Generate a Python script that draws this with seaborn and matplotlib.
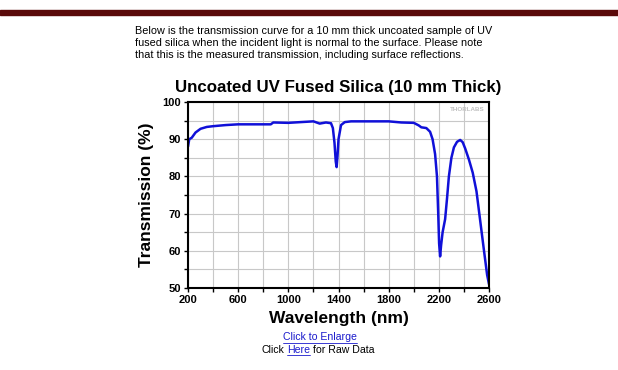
import matplotlib
matplotlib.use("Agg")
import matplotlib.pyplot as plt
from matplotlib.ticker import MultipleLocator
import pandas as pd
import seaborn as sns

# transmission curve
wavelength_nm = [200, 210, 230, 260, 300, 350, 400, 500, 600, 700, 860, 880, 1000,
                 1100, 1200, 1250, 1300, 1340, 1355, 1368, 1378, 1385, 1392, 1400,
                 1420, 1450, 1500, 1600, 1800, 1900, 2000, 2040, 2060, 2100, 2130,
                 2150, 2170, 2185, 2195, 2202, 2210, 2218, 2230, 2250, 2265, 2280,
                 2300, 2320, 2345, 2370, 2390, 2410, 2440, 2470, 2500, 2530, 2560,
                 2585, 2600]
transmission_pct = [88.0, 90.0, 90.4, 91.8, 92.8, 93.3, 93.5, 93.8, 94.0, 94.0, 94.0,
                    94.5, 94.4, 94.6, 94.8, 94.2, 94.5, 94.3, 93.0, 89.0, 84.0, 82.5,
                    85.5, 90.0, 93.8, 94.6, 94.8, 94.8, 94.8, 94.5, 94.4, 93.7, 93.2,
                    93.0, 92.0, 90.0, 86.0, 80.0, 70.0, 62.0, 58.5, 61.5, 65.0, 68.5,
                    74.0, 80.0, 85.0, 87.8, 89.3, 89.8, 89.2, 87.5, 84.5, 81.0, 76.0,
                    68.0, 60.0, 53.5, 51.0]

x_tick_labels = [200, 600, 1000, 1400, 1800, 2200, 2600]

intro_lines = [
    "Below is the transmission curve for a 10 mm thick uncoated sample of UV",
    "fused silica when the incident light is normal to the surface. Please note",
    "that this is the measured transmission, including surface reflections.",
]

df = pd.DataFrame({"Wavelength": wavelength_nm, "Transmission": transmission_pct})

sns.set_style("white")
plt.rcParams["font.family"] = ["Liberation Sans", "DejaVu Sans"]
plt.rcParams["text.color"] = "black"
plt.rcParams["axes.labelcolor"] = "black"
plt.rcParams["xtick.color"] = "black"
plt.rcParams["ytick.color"] = "black"

fig = plt.figure(figsize=(6.18, 3.70), dpi=100)
fig.patches.append(plt.Rectangle((0, 1 - 15 / 370), 1, 5 / 370, transform=fig.transFigure,
                                 color="#5a0a0a", zorder=0))

ax = fig.add_axes([0.3042, 0.2216, 0.4871, 0.5027])
sns.lineplot(data=df, x="Wavelength", y="Transmission", ax=ax, color="#1010d8", linewidth=1.8)

ax.set_xlim(200, 2600)
ax.set_ylim(50, 100)
ax.set_xticks(x_tick_labels)
ax.set_xticklabels([str(v) for v in x_tick_labels])
ax.xaxis.set_minor_locator(MultipleLocator(200))
ax.yaxis.set_major_locator(MultipleLocator(10))
ax.yaxis.set_minor_locator(MultipleLocator(5))
ax.grid(which="both", color="#c8c8c8", linewidth=0.8)
ax.set_axisbelow(True)
ax.tick_params(which="both", direction="out", length=3, width=1, color="black",
               labelsize=8, pad=2, left=True, bottom=True)
for lbl in ax.get_xticklabels() + ax.get_yticklabels():
    lbl.set_fontweight("bold")
for spine in ax.spines.values():
    spine.set_color("black")
    spine.set_linewidth(1.5)

ax.set_xlabel("Wavelength (nm)", fontsize=12.5, fontweight="bold", labelpad=4)
ax.set_ylabel("Transmission (%)", fontsize=12.5, fontweight="bold", labelpad=6)
ax.set_title("Uncoated UV Fused Silica (10 mm Thick)", fontsize=12.2, fontweight="bold", pad=7)
ax.text(0.985, 0.975, "THORLABS", transform=ax.transAxes, ha="right", va="top",
        fontsize=4.5, fontweight="bold", color="#c0c0c0")

for i, line in enumerate(intro_lines):
    fig.text(135 / 618, 1 - (31 + i * 12) / 370, line, fontsize=7.85, va="center", ha="left")

fig.text(320 / 618, 1 - 337 / 370, "Click to Enlarge", fontsize=7.6, color="#1a1acc",
         ha="center", va="center")
fig.lines.append(plt.Line2D([283 / 618, 357 / 618], [1 - 343 / 370] * 2,
                            transform=fig.transFigure, color="#1a1acc", linewidth=0.6))
fig.text(262 / 618, 1 - 350 / 370, "Click", fontsize=7.6, ha="left", va="center")
fig.text(287 / 618, 1 - 350 / 370, "Here", fontsize=7.6, color="#1a1acc", ha="left", va="center")
fig.lines.append(plt.Line2D([287 / 618, 310 / 618], [1 - 355 / 370] * 2,
                            transform=fig.transFigure, color="#1a1acc", linewidth=0.6))
fig.text(313 / 618, 1 - 350 / 370, "for Raw Data", fontsize=7.6, ha="left", va="center")

fig.savefig("out.png", dpi=100)
